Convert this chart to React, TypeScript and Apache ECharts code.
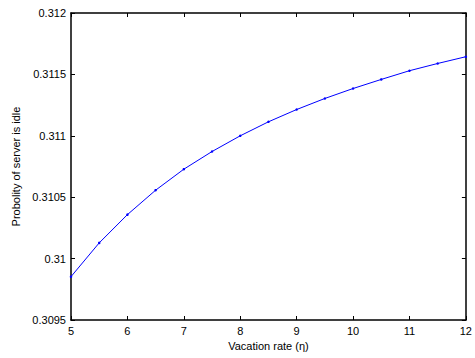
import React, { useEffect, useRef } from "react";
import * as echarts from "echarts";

const xValues = [5, 5.5, 6, 6.5, 7, 7.5, 8, 8.5, 9, 9.5, 10, 10.5, 11, 11.5, 12];
const yValues = [
  0.309853, 0.310128, 0.310358, 0.310557, 0.310728, 0.310872, 0.311, 0.311114,
  0.311214, 0.311304, 0.311385, 0.311459, 0.31153, 0.311589, 0.311644,
];
const xName = "Vacation rate (η)";
const yName = "Probolity of server is idle";

export default function App() {
  const ref = useRef<HTMLDivElement>(null);
  useEffect(() => {
    if (!ref.current) return;
    const chart = echarts.init(ref.current, undefined, { renderer: "svg" });
    const font = "'Liberation Sans', Arial, Helvetica, sans-serif";
    const axisLine = { show: true, onZero: false, lineStyle: { color: "#000", width: 1.5 } };
    const tick = { show: true, inside: true, length: 4, lineStyle: { color: "#000", width: 1 } };
    chart.setOption({
      animation: false,
      backgroundColor: "#fff",
      grid: { left: 71, right: 8, top: 13, bottom: 38, containLabel: false },
      xAxis: [
        {
          type: "value",
          min: 5,
          max: 12,
          interval: 1,
          axisLine,
          axisTick: tick,
          splitLine: { show: false },
          axisLabel: { color: "#000", fontSize: 11, fontFamily: font, margin: 5 },
          name: xName,
          nameLocation: "middle",
          nameGap: 20,
          nameTextStyle: { color: "#000", fontSize: 11, fontFamily: font },
        },
        {
          type: "value",
          position: "top",
          min: 5,
          max: 12,
          interval: 1,
          axisLine,
          axisTick: tick,
          axisLabel: { show: false },
          splitLine: { show: false },
        },
      ],
      yAxis: [
        {
          type: "value",
          min: 0.3095,
          max: 0.312,
          interval: 0.0005,
          axisLine,
          axisTick: tick,
          splitLine: { show: false },
          axisLabel: {
            color: "#000",
            fontSize: 11,
            fontFamily: font,
            margin: 5,
            formatter: (v: number) => String(parseFloat(v.toFixed(4))),
          },
          name: yName,
          nameLocation: "middle",
          nameGap: 50,
          nameTextStyle: { color: "#000", fontSize: 11, fontFamily: font },
        },
        {
          type: "value",
          position: "right",
          min: 0.3095,
          max: 0.312,
          interval: 0.0005,
          axisLine,
          axisTick: tick,
          axisLabel: { show: false },
          splitLine: { show: false },
        },
      ],
      series: [
        {
          type: "line",
          data: xValues.map((x, i) => [x, yValues[i]]),
          symbol: "circle",
          symbolSize: 2.5,
          showSymbol: true,
          lineStyle: { color: "#0000ff", width: 1 },
          itemStyle: { color: "#0000ff" },
        },
      ],
    });
    return () => chart.dispose();
  }, []);
  return (
    <div
      ref={ref}
      style={{ position: "fixed", left: 0, top: 0, width: 475, height: 358 }}
    />
  );
}
